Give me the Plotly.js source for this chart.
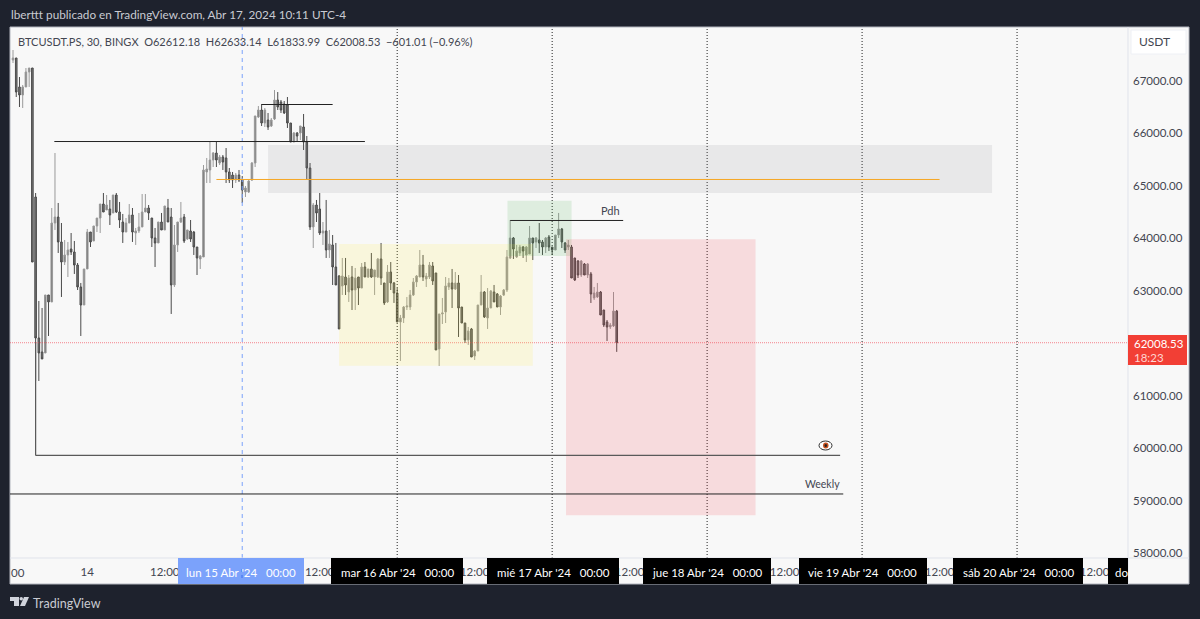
<!DOCTYPE html>
<html><head><meta charset="utf-8">
<script src="https://cdn.plot.ly/plotly-3.0.1.min.js"></script>
<style>html,body{margin:0;padding:0;background:#1e222d;overflow:hidden}#c{width:1200px;height:619px}</style>
</head><body><div id="c"></div>
<script>
const opens=[67400,67439,66886,66733,66886,67172,67248,64788,62099,61832,61813,62919,62786,64292,64406,63930,63548,63682,63796,63739,63491,63072,62728,63415,64120,63949,64235,64387,64654,64540,64559,64483,64826,64502,64311,64120,64292,64445,64101,64140,64216,64502,64578,64387,64006,63911,64311,64159,64578,64406,63110,63873,64311,64406,63987,64140,64120,63834,63606,63644,65265,65303,65493,65627,65436,65551,65532,65265,65207,65112,65207,65112,64883,64883,65112,65436,66313,66447,66199,66256,66142,66275,66638,66600,66561,66542,66199,65837,66008,66008,66123,65837,65341,64216,64635,64559,64101,64140,63777,63873,63453,63281,63091,63262,62976,63262,63014,63262,63052,63453,63262,63415,63262,63262,63606,63148,62786,63358,63148,62957,62404,62480,62690,62690,62919,63167,63262,63491,63224,63262,63472,63339,61889,62557,62595,63072,63148,63033,63148,62690,62385,62061,62271,61756,61851,62728,62976,62480,62671,62976,62938,62690,62919,63014,63625,64006,63644,63720,63834,63682,63701,64006,63930,63968,63930,63834,64025,63834,63777,64063,64178,63911,63834,63834,63625,63567,63300,63510,63300,63320,62862,62881,62976,62633,62404,62309,62328,62612.18];
const highs=[67591,67439,67076,66924,67248,67248,67248,64864,62805,62671,62919,62919,64578,65627,64674,64292,63968,63930,64101,63949,63529,63148,63415,64178,64120,64235,64387,64654,64864,64826,64731,64826,64864,64693,64464,64387,64654,64578,64197,64483,64845,64845,64635,64387,64197,64311,64483,64616,64750,64578,64254,64311,64693,64464,64159,64349,64140,63834,63682,65398,65532,65837,65646,65837,65589,65589,65722,65341,65265,65246,65303,65188,64998,65112,65455,66333,66523,66561,66485,66390,66294,66828,66790,66638,66619,66695,66199,66027,66027,66142,66371,65951,65436,64674,64731,64864,64311,64731,64159,64063,63911,63300,63625,63625,63300,63472,63434,63262,63529,63548,63415,63720,63396,63625,63911,63148,63491,63548,63167,63052,62538,62709,62881,63014,63243,63300,63777,63682,63339,63548,63548,63339,62557,62862,63262,63243,63415,63358,63300,62690,62385,62309,62290,61870,62728,63300,62995,63052,63014,63110,62957,62919,63033,63777,64349,64025,63873,63873,63853,63853,64235,64006,64025,64292,63968,64025,64063,63834,64063,64483,64197,63930,63968,63873,63625,63586,63586,63529,63529,63358,63072,63148,62995,62633,62442,62385,62976,62633.14];
const lows=[67343,66695,66504,66485,66886,66886,63548,61279,61279,61699,61813,62137,62786,64159,63720,62881,63491,63262,63682,63320,63014,62137,62728,63415,63834,63949,64120,64101,64502,64540,64254,64483,64483,64197,63911,64120,64292,63930,63873,64101,64216,64502,64349,63834,63453,63911,64159,64159,64311,62557,63072,63739,64292,63911,63968,63930,63682,63300,63415,63644,65055,65055,65360,65360,65398,65303,65055,65055,64960,65055,65074,64674,64788,64864,65093,65360,66294,66142,66123,66066,66123,66256,66447,66390,66371,66104,65837,65837,65856,65875,65684,65131,64159,63815,64311,64063,63873,63625,63625,63110,63110,62271,62919,62919,62786,62633,62633,62728,63052,63262,63243,63243,62919,63243,63110,62728,62767,63014,62767,62404,61660,62385,62633,62633,62900,63072,63262,63186,63072,63224,63110,61870,61565,62366,62385,63014,62671,63014,62118,62385,62004,61966,61737,61679,61851,62728,62480,62271,62671,62786,62690,62538,62900,62976,63606,63606,63625,63663,63625,63548,63701,63586,63815,63720,63682,63720,63758,63682,63777,64006,63815,63720,63777,63243,63186,63243,63262,63300,63243,62767,62824,62862,62538,62309,62042,62271,62309,61833.99];
const closes=[67439,66790,66733,66886,67172,67248,63548,62099,61813,61699,62919,62786,64292,64406,63930,63548,63682,63777,63739,63491,63072,62728,63415,64120,63930,64235,64387,64654,64502,64635,64445,64826,64502,64349,64120,64292,64445,64120,64140,64216,64502,64578,64483,64006,63911,64311,64159,64616,64311,63110,63873,64311,64387,63949,64159,63987,63834,63625,63663,65303,65322,65493,65627,65493,65551,65455,65265,65112,65112,65207,65112,64921,64960,65093,65436,66333,66447,66199,66447,66123,66256,66638,66504,66447,66390,66199,65837,66008,65951,66142,65837,65341,64216,64635,64483,64101,64140,63777,63892,63453,63110,62271,63281,63110,63243,63014,63243,63052,63453,63262,63415,63262,63396,63606,63243,62767,63358,63148,62957,62404,62480,62690,62709,62919,63167,63281,63491,63262,63281,63491,63186,61870,62557,62576,63091,63148,63033,63148,62671,62385,62061,62233,61737,61851,62728,62976,62500,62671,62995,62786,62690,62900,63014,63644,64006,63796,63758,63834,63758,63834,64006,63911,64006,63911,63834,64006,63834,63777,64063,64178,63930,63777,63873,63243,63205,63300,63567,63300,63510,62938,62957,62976,62538,62347,62309,62347,62614,62008.53];

const firstCandle='2024-04-13T12:30:00Z', stepMinutes=30;
const times=opens.map((_,i)=>new Date(Date.parse(firstCandle)+i*stepMinutes*60000).toISOString());

const priceTicks=[58000,59000,60000,61000,62000,63000,64000,65000,66000,67000];
const priceTickLabels=['58000.00','59000.00','60000.00','61000.00','62000.00','63000.00','64000.00','65000.00','66000.00','67000.00'];
const timeTicks=['2024-04-14T00:00','2024-04-14T12:00','2024-04-15T12:00','2024-04-16T12:00','2024-04-17T12:00','2024-04-18T12:00','2024-04-19T12:00','2024-04-20T12:00'];
const timeTickLabels=['14','12:00','12:00','12:00','12:00','12:00','12:00','12:00'];
const dayLines=['2024-04-16T00:00','2024-04-17T00:00','2024-04-18T00:00','2024-04-19T00:00','2024-04-20T00:00'];
const crosshairTime='2024-04-15T00:00';
const lastPrice=62008.53;

const zoneStart=['2024-04-15T04:00','2024-04-15T15:00','2024-04-16T17:05','2024-04-17T02:09'];
const zoneEnd=['2024-04-19T20:08','2024-04-16T21:00','2024-04-17T03:00','2024-04-18T07:30'];
const zoneTop=[65780,63892,64717,63981];
const zoneBottom=[64864,61570,63663,58720];
const zoneFill=['rgba(120,123,134,0.12)','rgba(255,235,59,0.15)','rgba(76,175,80,0.15)','rgba(242,54,69,0.15)'];

const levelStart=['2024-04-13T18:54','2024-04-15T03:00','2024-04-14T20:00','2024-04-16T17:30','2024-04-13T16:00','2024-04-13T12:00'];
const levelEnd=['2024-04-15T19:00','2024-04-15T14:00','2024-04-19T12:00','2024-04-17T11:00','2024-04-18T20:36','2024-04-18T21:05'];
const levelPrice=[65846,66552,65122,64340,59858,59124];
const levelColor=['#222222','#222222','#f5a623','#222222','#5a5a5a','#222222'];
const levelWidth=[1,1,1,1,1.25,1];

const pills=[['lun 15 Abr \'24\u00a0\u00a0\u00a000:00',178,304,'#7ba2fb'],['mar 16 Abr \'24\u00a0\u00a0\u00a000:00',331,463,'#000'],['mié 17 Abr \'24\u00a0\u00a0\u00a000:00',487,619,'#000'],['jue 18 Abr \'24\u00a0\u00a0\u00a000:00',643,771,'#000'],['vie 19 Abr \'24\u00a0\u00a0\u00a000:00',799,927,'#000'],['sáb 20 Abr \'24\u00a0\u00a0\u00a000:00',953,1083,'#000']];

const L=10,R=1128,T=27,B=558;
const px=x=>(x-L)/(R-L), py=y=>(B-y)/(B-T);
const FONT='Lato, sans-serif';
const rect=(x0,y0,x1,y1,fill,line,layer)=>({type:'rect',xref:'paper',yref:'paper',x0:px(x0),x1:px(x1),y0:py(y0),y1:py(y1),fillcolor:fill,line:{width:line?1:0,color:line||fill},layer:layer||'above'});
const seg=(x0,y0,x1,y1,color,w,dash)=>({type:'line',xref:'paper',yref:'paper',x0:px(x0),x1:px(x1),y0:py(y0),y1:py(y1),line:{color,width:w||1,dash:dash||'solid'},layer:'above'});
const poly=(pts,fill)=>({type:'path',xref:'paper',yref:'paper',path:'M'+pts.map(p=>px(p[0])+' '+py(p[1])).join('L')+'Z',fillcolor:fill,line:{width:0},layer:'above'});
const oval=(x0,y0,x1,y1,fill,line)=>({type:'circle',xref:'paper',yref:'paper',x0:px(x0),x1:px(x1),y0:py(y0),y1:py(y1),fillcolor:fill,line:{width:line?1:0,color:line||fill},layer:'above'});
const note=(text,x,y,color,size,anchor)=>({text,xref:'paper',yref:'paper',x:px(x),y:py(y),xanchor:anchor||'left',yanchor:'middle',showarrow:false,font:{family:FONT,size:size||12,color},align:'left',borderpad:0,borderwidth:0});

const shapes=[ rect(10,27,1189,584,'#f8f8f8','#b2b5be','below') ];
dayLines.forEach(d=>shapes.push({type:'line',xref:'x',yref:'paper',x0:d,x1:d,y0:0,y1:1,line:{color:'#222222',width:1,dash:'1px,2px'},layer:'above'}));
shapes.push({type:'line',xref:'x',yref:'paper',x0:crosshairTime,x1:crosshairTime,y0:0,y1:1,line:{color:'#7ba2fb',width:1,dash:'4px,4px'},layer:'above'});
shapes.push({type:'line',xref:'paper',yref:'y',x0:0,x1:1,y0:lastPrice,y1:lastPrice,line:{color:'rgba(242,54,69,0.6)',width:1,dash:'1px,1px'},layer:'above'});
zoneStart.forEach((s,i)=>shapes.push({type:'rect',xref:'x',yref:'y',x0:s,x1:zoneEnd[i],y0:zoneBottom[i],y1:zoneTop[i],fillcolor:zoneFill[i],line:{width:0},layer:'above'}));
levelStart.forEach((s,i)=>shapes.push({type:'line',xref:'x',yref:'y',x0:s,x1:levelEnd[i],y0:levelPrice[i],y1:levelPrice[i],line:{color:levelColor[i],width:levelWidth[i]},layer:'above'}));
shapes.push({type:'line',xref:'x',yref:'y',x0:levelStart[4],x1:levelStart[4],y0:62000,y1:levelPrice[4],line:{color:'#5a5a5a',width:1.25},layer:'above'});
shapes.push(seg(1128,27,1128,584,'#e0e3eb'),seg(10,558,1189,558,'#e0e3eb'));
pills.forEach(p=>shapes.push(rect(p[1],558,p[2],584,p[3])));
shapes.push(rect(1108,558,1128,584,'#000'));
shapes.push(seg(242,569,242,581,'#3b6ff0',1,'3px,3px'));
shapes.push(rect(1128,335,1187,365,'#f23f35'));
shapes.push(rect(1131,30,1186,54,'#ffffff','#eef0f5'));
shapes.push(oval(819,441,832,450,'#ffffff','#333'),oval(823,442.5,828.5,448.5,'#c8501e'),oval(824.5,444,827,447,'#222'));
shapes.push(rect(10,597,19,601,'#d1d4dc'),rect(14,597,19,606,'#d1d4dc'),oval(19.5,597,23,600.5,'#d1d4dc'),poly([[24,597],[29,597],[25,606],[20,606]],'#d1d4dc'));

const gap='\u00a0\u00a0';
const annotations=[
  note('lberttt publicado en TradingView.com, Abr 17, 2024 10:11 UTC-4',11,15,'#c9cbd2',11.75),
  note('BTCUSDT.PS, 30, BINGX'+gap+'O62612.18'+gap+'H62633.14'+gap+'L61833.99'+gap+'C62008.53'+gap+'−601.01 (−0.96%)',18,41,'#434651',11),
  note('TradingView',33,603,'#c9cbd2',12.5),
  note('USDT',1139,42,'#434651',12),
  note('62008.53',1134,343,'#ffffff',11.5),
  note('18:23',1134,357,'#ffd5d2',11.5),
  note('Pdh',610.5,211,'#434651',11,'center'),
  note('Weekly',822.5,484,'#434651',10.5,'center'),
  note('00',11,572,'#434651',11.5),
  note('do',1115,572,'#ffffff',11.5),
];
pills.forEach(p=>annotations.push(note(p[0],(p[1]+p[2])/2,572,'#ffffff',11.5,'center')));

const trace={type:'candlestick',x:times,open:opens,high:highs,low:lows,close:closes,whiskerwidth:0,
  increasing:{line:{color:'#9a9a9a',width:1},fillcolor:'#777777'},
  decreasing:{line:{color:'#4a4a4a',width:1},fillcolor:'#777777'},
  hoverinfo:'skip',showlegend:false};

const layout={width:1200,height:619,paper_bgcolor:'#1e222d',plot_bgcolor:'rgba(0,0,0,0)',showlegend:false,
  margin:{l:L,r:1200-R,t:T,b:619-B,pad:0},
  xaxis:{type:'date',range:['2024-04-13 12:02','2024-04-20 17:11'],rangeslider:{visible:false},showgrid:false,zeroline:false,showline:false,ticks:'',ticklabelstandoff:5,
    tickmode:'array',tickvals:timeTicks,ticktext:timeTickLabels,tickangle:0,tickfont:{family:FONT,size:11.5,color:'#434651'},automargin:false},
  yaxis:{side:'right',range:[57903,68030],showgrid:false,zeroline:false,showline:false,ticks:'',ticklabelstandoff:4,
    tickmode:'array',tickvals:priceTicks,ticktext:priceTickLabels,tickfont:{family:FONT,size:11.5,color:'#434651'},automargin:false},
  shapes,annotations};
Plotly.newPlot('c',[trace],layout,{displayModeBar:false,staticPlot:true});
</script></body></html>
